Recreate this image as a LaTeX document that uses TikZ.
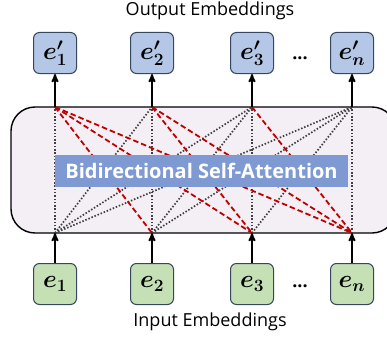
\documentclass[tikz,border=0pt]{standalone}
\usepackage{amsmath}
\usepackage{amssymb}
\usepackage{bm}
\usepackage{fontspec}
\setmainfont{Open Sans}
\usetikzlibrary{arrows}

\definecolor{outblue}{HTML}{B4C7E7}
\definecolor{ingreen}{HTML}{C5E0B4}
\definecolor{boxline}{HTML}{36465F}
\definecolor{attfill}{HTML}{F3EFF5}
\definecolor{attlabel}{HTML}{7F9AD3}
\definecolor{attred}{HTML}{C00000}
\definecolor{attgray}{HTML}{404040}

\begin{document}
\begin{tikzpicture}[x=1pt,y=1pt,>=stealth',semithick]
\tikzstyle{every node}=[inner sep=0pt]
\tikzstyle{embox}=[draw=boxline,line width=1pt,rounded corners=6pt,
                   minimum width=43pt,minimum height=41pt,font=\fontsize{24}{28}\selectfont]
\tikzstyle{outemb}=[embox,fill=outblue]
\tikzstyle{inemb}=[embox,fill=ingreen]
\tikzstyle{caption}=[font=\fontsize{18}{21}\selectfont]
\tikzstyle{flow}=[->,line width=1.8pt]
\tikzstyle{fwd}=[attred,line width=1.8pt,dash pattern=on 5.5pt off 3pt]
\tikzstyle{bwd}=[attgray,line width=1.7pt,dash pattern=on 1.5pt off 1.8pt]
\useasboundingbox (0,0) rectangle (387,338);
\clip (0,0) rectangle (387,338);

% attention block
\draw[fill=attfill,line width=1.4pt,rounded corners=24pt] (11,105) rectangle (396,231);

\coordinate (t1) at (55,231);  \coordinate (b1) at (55,105);
\coordinate (t2) at (152,231); \coordinate (b2) at (152,105);
\coordinate (t3) at (252,231); \coordinate (b3) at (252,105);
\coordinate (t4) at (352,231); \coordinate (b4) at (352,105);
\coordinate (dotx) at (300,0);

% token-to-token links
\path[bwd] (b1) edge (t1) edge (t2) edge (t3) edge (t4)
           (b2) edge (t2) edge (t3) edge (t4)
           (b3) edge (t3) edge (t4)
           (b4) edge (t4);
\path[fwd] (t1) edge (b2) edge (b3) edge (b4)
           (t2) edge (b3) edge (b4)
           (t3) edge (b4);

\node[fill=attlabel,minimum width=293pt,minimum height=32pt,text=white,
      font=\fontsize{20}{24}\selectfont\bfseries] (att) at (201.5,167) {Bidirectional Self-Attention};

% output embeddings
\node[outemb] (o1) at (55,285)  {$\bm{e'_1}$};
\node[outemb] (o2) at (152,285) {$\bm{e'_2}$};
\node[outemb] (o3) at (252,285) {$\bm{e'_3}$};
\node[outemb] (o4) at (352,285) {$\bm{e'_n}$};
\node[caption,anchor=base] (odots) at (o4.base -| dotx) {\textbf{...}};
\node[caption] (otitle) at (210,327) {Output Embeddings};

% input embeddings
\node[inemb] (i1) at (55,54)  {$\bm{e_1}$};
\node[inemb] (i2) at (152,54) {$\bm{e_2}$};
\node[inemb] (i3) at (252,54) {$\bm{e_3}$};
\node[inemb] (i4) at (352,54) {$\bm{e_n}$};
\node[caption,anchor=base] (idots) at (i4.base -| dotx) {\textbf{...}};
\node[caption] (ititle) at (210,16) {Input Embeddings};

\draw[flow] (i1) -- (b1);
\draw[flow] (i2) -- (b2);
\draw[flow] (i3) -- (b3);
\draw[flow] (i4) -- (b4);
\draw[flow] (t1) -- (o1);
\draw[flow] (t2) -- (o2);
\draw[flow] (t3) -- (o3);
\draw[flow] (t4) -- (o4);

\end{tikzpicture}
\end{document}
